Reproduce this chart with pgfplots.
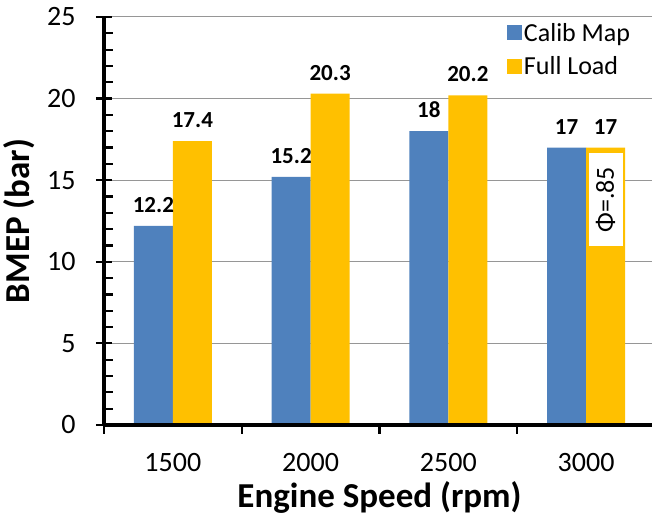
\documentclass[border=0pt]{standalone}
\usepackage{fontspec}
\setmainfont{Carlito}
\usepackage{pgfplots}
\pgfplotsset{compat=1.18}
\definecolor{calib}{RGB}{79,129,189}
\definecolor{fullload}{RGB}{255,192,0}
\definecolor{gridgray}{RGB}{150,150,150}
\pgfplotsset{
  % grid behind the bars, ticks and axis lines in front of them
  layers/bars under axis/.define layer set={axis background,axis grid,main,axis ticks,axis lines,axis tick labels,axis descriptions,axis foreground}{
    grid style={/pgfplots/on layer=axis grid},
    tick style={/pgfplots/on layer=axis ticks},
    axis line style={/pgfplots/on layer=axis lines},
    label style={/pgfplots/on layer=axis descriptions},
    legend style={/pgfplots/on layer=axis descriptions},
    ticklabel style={/pgfplots/on layer=axis tick labels},
  },
  sq legend/.style={legend image code/.code={\fill[##1] (0pt,-7.5pt) rectangle (15pt,7.5pt);}},
}
\begin{document}
\begin{tikzpicture}
\begin{axis}[
  at={(0,0)}, anchor=south west,
  set layers=bars under axis,
  scale only axis, width=551pt, height=408pt,
  ybar=0pt, bar width=39pt,
  xmin=-0.5, xmax=3.5, ymin=0, ymax=25,
  xtick={0,1,2,3}, xticklabels={1500,2000,2500,3000},
  minor xtick={-0.5,0.5,1.5,2.5},
  ytick={0,5,10,15,20,25}, minor y tick num=4,
  axis x line*=bottom, axis y line*=left,
  axis line style={line width=3.5pt, black},
  every outer x axis line/.append style={line width=3.5pt, black},
  every outer y axis line/.append style={line width=3.5pt, black},
  tick align=center, major tick length=16pt, minor tick length=9pt,
  tick style={line width=2.2pt, black},
  every major tick/.append style={line width=2.2pt, black},
  every minor tick/.append style={line width=2.2pt, black},
  every major x tick/.append style={draw=none},
  every minor x tick/.append style={yshift=-4.5pt},
  every minor y tick/.append style={xshift=4.5pt},
  ymajorgrids, major grid style={line width=1pt, gridgray},
  /pgf/number format/assume math mode=true,
  ticklabel style={font=\fontsize{28}{32}\selectfont},
  yticklabel style={xshift=-17pt},
  xticklabel style={yshift=-17pt},
  xlabel={Engine Speed (rpm)},
  ylabel={BMEP (bar)},
  xlabel style={at={(rel axis cs:0.5,0)}, anchor=center, yshift=-72pt, font=\bfseries\fontsize{35}{40}\selectfont},
  ylabel style={at={(rel axis cs:0,0.5)}, anchor=center, yshift=85pt, font=\bfseries\fontsize{35}{40}\selectfont},
  nodes near coords,
  every node near coord/.append style={font=\bfseries\fontsize{23}{27}\selectfont, yshift=10pt, black},
  legend style={draw=none, fill=none, at={(rel axis cs:0.731,1)}, anchor=north west, yshift=-4pt,
    font=\fontsize{26}{30}\selectfont, inner sep=0pt, row sep=10pt},
  legend cell align=left,
]
\addplot[fill=calib, draw=none, sq legend] coordinates {(0,12.2) (1,15.2) (2,18) (3,17)};
\addplot[fill=fullload, draw=none, sq legend] coordinates {(0,17.4) (1,20.3) (2,20.2) (3,17)};
\legend{Calib Map, Full Load}
\node[rotate=90, fill=white, minimum width=93pt, minimum height=34pt, inner sep=0pt,
  font=\fontsize{26}{30}\selectfont] at ([xshift=19.5pt]axis cs:3,13.8) {Φ=.85};
% heavy axis lines drawn over the bars
\draw[line width=3.5pt, black, line cap=rect] (rel axis cs:0,1) -- (rel axis cs:0,0) -- (rel axis cs:1,0);
\end{axis}
\pgfresetboundingbox
\useasboundingbox (-104pt,-93pt) rectangle (548pt,425pt);
\end{tikzpicture}
\end{document}
